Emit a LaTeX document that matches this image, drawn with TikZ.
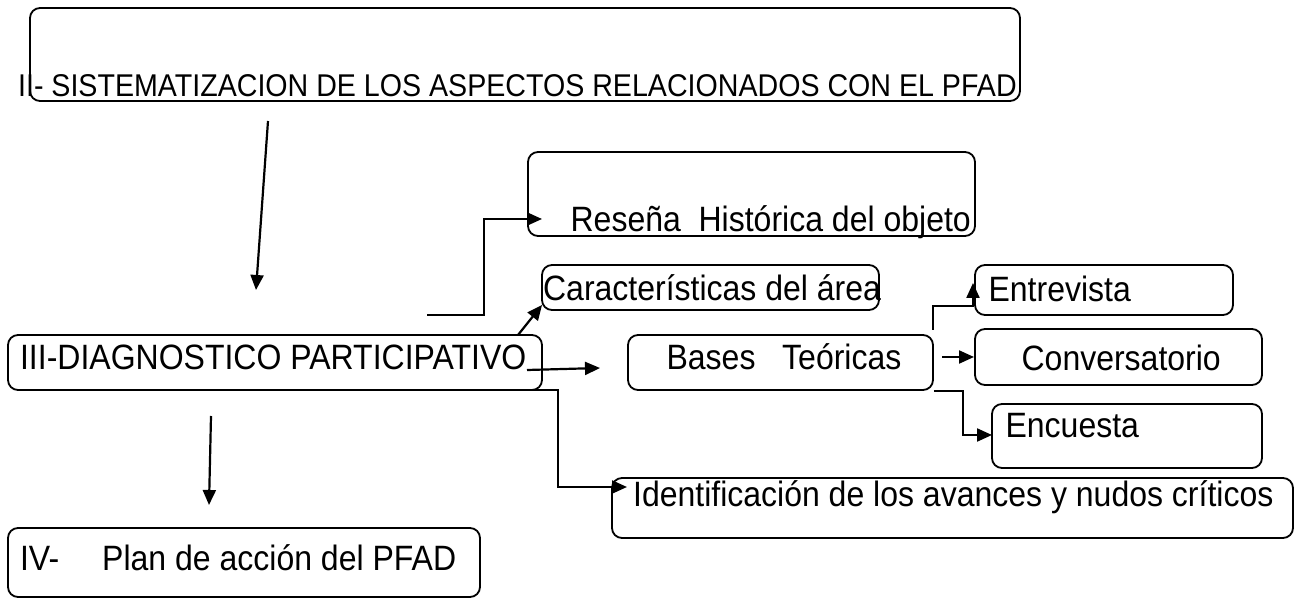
\documentclass[tikz,border=0pt]{standalone}
\usepackage{fontspec}
\setmainfont{Liberation Sans}
\usepackage{tikz}
\usetikzlibrary{arrows.meta}
\newcommand{\estira}[1]{\scalebox{1}[1.1]{#1}}

\begin{document}
\begin{tikzpicture}[->,>={Triangle[length=7.5pt,width=6.5pt]},x=0.5pt,y=-0.5pt,
                    line width=1.1pt]
  \tikzstyle{caja}=[draw,rounded corners=5pt,line width=0.9pt,inner sep=0pt]
  \tikzstyle{texto}=[anchor=base west,inner sep=0pt,font=\fontsize{16}{19}\selectfont]
  \useasboundingbox (0,0) rectangle (1297,598);

  % cajas
  \node[caja,minimum width=495pt,minimum height=46.5pt]   (sist) at (525,54.5)   {};
  \node[caja,minimum width=223.5pt,minimum height=42pt]   (res)  at (751.5,194)  {};
  \node[caja,minimum width=168.5pt,minimum height=22.5pt] (car)  at (710.5,287.5) {};
  \node[caja,minimum width=267pt,minimum height=27.5pt]   (dia)  at (275,362.5)  {};
  \node[caja,minimum width=152.5pt,minimum height=27.5pt] (bas)  at (780.5,362.5) {};
  \node[caja,minimum width=129pt,minimum height=25pt]     (ent)  at (1104,290)   {};
  \node[caja,minimum width=143.5pt,minimum height=28pt]   (con)  at (1118.5,357) {};
  \node[caja,minimum width=135pt,minimum height=32pt]     (enc)  at (1127,436)   {};
  \node[caja,minimum width=340.5pt,minimum height=30pt]   (ide)  at (952.5,508)  {};
  \node[caja,minimum width=236pt,minimum height=34.5pt]   (pla)  at (244,562.5)  {};

  % textos
  \node[texto,font=\fontsize{14.3}{17}\selectfont] (tsist) at (17,97)
       {\estira{II- SISTEMATIZACION DE LOS ASPECTOS RELACIONADOS CON EL PFAD}};
  \node[texto] (tres) at (569.5,232)  {\estira{Reseña\ \ Histórica del objeto}};
  \node[texto] (tcar) at (542,301)    {\estira{Características del área}};
  \node[texto] (tdia) at (19,370)     {\estira{III-DIAGNOSTICO PARTICIPATIVO}};
  \node[texto] (tbas) at (665.5,370)  {\estira{Bases\ \ \ Teóricas}};
  \node[texto] (tent) at (987.5,302)  {\estira{Entrevista}};
  \node[texto] (tcon) at (1020.5,371) {\estira{Conversatorio}};
  \node[texto] (tenc) at (1004.5,438) {\estira{Encuesta}};
  \node[texto] (tide) at (632,507)    {\estira{Identificación de los avances y nudos críticos}};
  \node[texto] (tpla) at (19,571)     {\estira{IV-\hspace{21.5pt}Plan de acción del PFAD}};

  % flechas
  \coordinate (s1) at (268,121);  \coordinate (s2) at (256,290);
  \coordinate (p1) at (211,416);  \coordinate (p2) at (209,505);
  \coordinate (r1) at (427,315);  \coordinate (r2) at (542,219);
  \coordinate (c1) at (518,335);  \coordinate (c2) at (542,305);
  \coordinate (b1) at (527,370);  \coordinate (b2) at (600,368);
  \coordinate (i1) at (490,390);  \coordinate (i2) at (627,487);
  \coordinate (e1) at (933,330);  \coordinate (e2) at (973,283);
  \coordinate (v1) at (942,357);  \coordinate (v2) at (974,357);
  \coordinate (n2) at (992,435);

  \path (s1) edge (s2)
        (p1) edge (p2)
        (c1) edge (c2)
        (b1) edge (b2)
        (v1) edge (v2);
  \draw (r1) -- ++(57,0) |- (r2);
  \draw (i1) -- ++(68,0) |- (i2);
  \draw (e1) -- ++(0,-24) -| (e2);
  \draw (bas.south east) -- ++(29,0) |- (n2);
\end{tikzpicture}
\end{document}
